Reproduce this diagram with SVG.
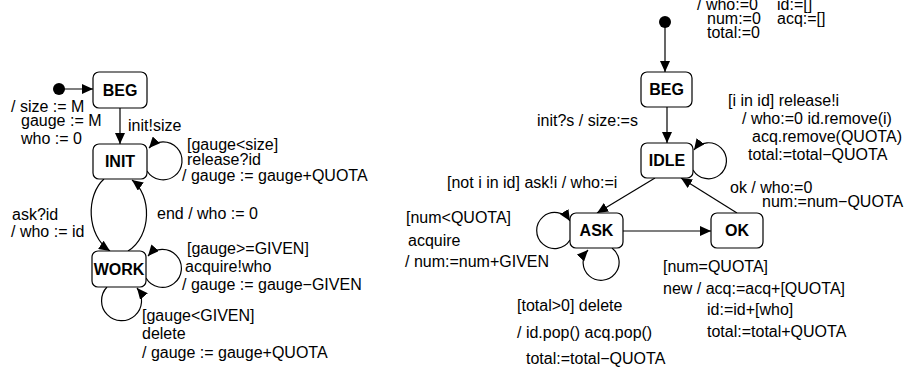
<svg xmlns="http://www.w3.org/2000/svg" width="904" height="374" viewBox="0 0 904 374">
<style>
text{font-family:"Liberation Sans",Arial,sans-serif;font-size:16px;fill:#000}
.n{font-weight:bold;text-anchor:middle}
.box{fill:#fff;stroke:#000;stroke-width:1.2}
.e{fill:none;stroke:#000;stroke-width:1.2;marker-end:url(#ah)}
</style>
<defs>
<marker id="ah" markerUnits="userSpaceOnUse" markerWidth="12" markerHeight="10" refX="11" refY="5" orient="auto">
<path d="M0,0 L11,5 L0,10 z" fill="#000"/>
</marker>
</defs>
<rect width="904" height="374" fill="#fff"/>
<g id="connectors">
<path class="e" d="M59,89 L93,89"/>
<path class="e" d="M120,108 L120,144"/>
<path class="e" d="M147,171 A19,19 0 1 0 149,148"/>
<path class="e" d="M104,179 C86,195 86,235 110,251"/>
<path class="e" d="M128,251 C152,236 152,195 132,180"/>
<path class="e" d="M146,278 A19,19 0 1 0 148,256"/>
<path class="e" d="M107,287 A20,20 0 1 0 137,288"/>
<path class="e" d="M665,22 L665,72"/>
<path class="e" d="M667,107 L667,143"/>
<path class="e" d="M693,170 A18,18 0 1 0 694,150"/>
<path class="e" d="M655,178 L597,213"/>
<path class="e" d="M570,240 A18,18 0 1 1 570,221"/>
<path class="e" d="M612,248 A18,18 0 1 1 588,250"/>
<path class="e" d="M623,231 L711,231"/>
<path class="e" d="M737,213 L681,178"/>
</g>
<g id="init-left"><circle cx="59" cy="89" r="6" fill="#000"/></g>
<g id="beg-left"><rect class="box" x="93" y="72" width="54" height="36" rx="6"/><text class="n" x="120" y="96">BEG</text></g>
<g id="init"><rect class="box" x="93" y="144" width="54" height="35" rx="6"/><text class="n" x="120" y="167">INIT</text></g>
<g id="work"><rect class="box" x="92" y="251" width="54" height="36" rx="6"/><text class="n" x="119" y="275">WORK</text></g>
<g id="init-right"><circle cx="665" cy="22" r="6" fill="#000"/></g>
<g id="beg-right"><rect class="box" x="641" y="72" width="51" height="35" rx="6"/><text class="n" x="666.5" y="95">BEG</text></g>
<g id="idle"><rect class="box" x="641" y="143" width="52" height="35" rx="6"/><text class="n" x="667" y="166">IDLE</text></g>
<g id="ask"><rect class="box" x="570" y="213" width="53" height="35" rx="6"/><text class="n" x="596.5" y="236">ASK</text></g>
<g id="ok"><rect class="box" x="711" y="213" width="52" height="35" rx="6"/><text class="n" x="737" y="236">OK</text></g>
<g id="labels">
<text x="11" y="112">/ size := M</text>
<text x="21" y="126">gauge := M</text>
<text x="21" y="144">who := 0</text>
<text x="128" y="131">init!size</text>
<text x="187" y="150">[gauge&lt;size]</text>
<text x="187" y="165">release?id</text>
<text x="182" y="181">/ gauge := gauge+QUOTA</text>
<text x="157" y="219">end  / who := 0</text>
<text x="12" y="220">ask?id</text>
<text x="11" y="237">/ who := id</text>
<text x="187" y="254">[gauge&gt;=GIVEN]</text>
<text x="185" y="272">acquire!who</text>
<text x="182" y="290">/ gauge := gauge−GIVEN</text>
<text x="142" y="321">[gauge&lt;GIVEN]</text>
<text x="142" y="339">delete</text>
<text x="142" y="358">/ gauge := gauge+QUOTA</text>
<text x="697" y="10">/ who:=0</text>
<text x="777" y="10">id:=[]</text>
<text x="707" y="24">num:=0</text>
<text x="777" y="24">acq:=[]</text>
<text x="707" y="38">total:=0</text>
<text x="537" y="126">init?s / size:=s</text>
<text x="728" y="106">[i in id] release!i</text>
<text x="742" y="124">/ who:=0 id.remove(i)</text>
<text x="752" y="142">acq.remove(QUOTA)</text>
<text x="748" y="160">total:=total−QUOTA</text>
<text x="730" y="193">ok / who:=0</text>
<text x="762" y="207">num:=num−QUOTA</text>
<text x="447" y="188">[not i in id] ask!i / who:=i</text>
<text x="406" y="223">[num&lt;QUOTA]</text>
<text x="408" y="246">acquire</text>
<text x="405" y="267">/ num:=num+GIVEN</text>
<text x="517" y="311">[total&gt;0] delete</text>
<text x="517" y="338">/ id.pop() acq.pop()</text>
<text x="526" y="364">total:=total−QUOTA</text>
<text x="663" y="272">[num=QUOTA]</text>
<text x="663" y="294">new / acq:=acq+[QUOTA]</text>
<text x="707" y="315">id:=id+[who]</text>
<text x="707" y="337">total:=total+QUOTA</text>
</g>
</svg>
